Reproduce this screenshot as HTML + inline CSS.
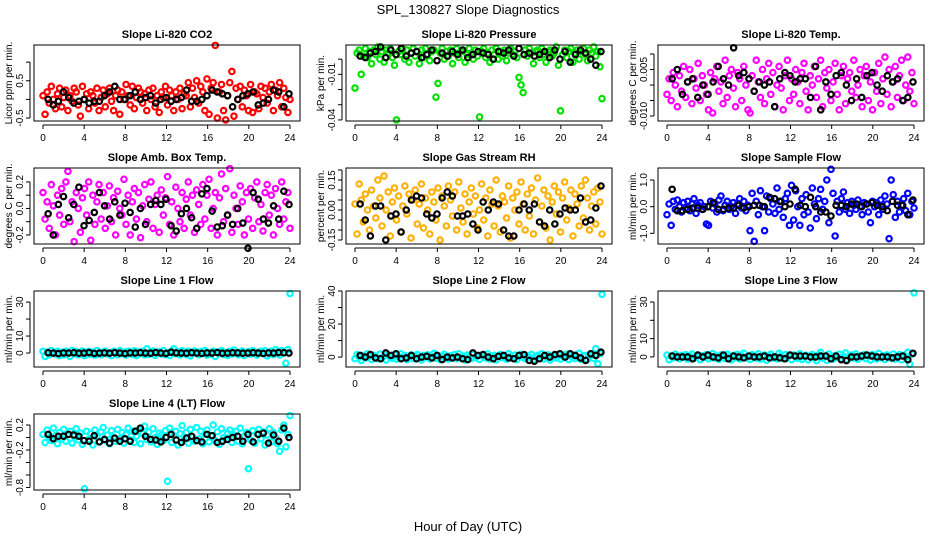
<!DOCTYPE html>
<html><head><meta charset="utf-8"><style>
html,body{margin:0;padding:0;background:#fff;}
svg{display:block;font-family:"Liberation Sans",Arial,sans-serif;}
</style></head><body>
<svg id="chart" width="936" height="540" viewBox="0 0 936 540" xmlns="http://www.w3.org/2000/svg">
<rect width="936" height="540" fill="#fff"/>
<text x="468" y="14" font-size="13" text-anchor="middle">SPL_130827  Slope Diagnostics</text>
<text x="468" y="531" font-size="13" text-anchor="middle">Hour of Day (UTC)</text>
<g id="panels"></g>
</svg>
<script>
// ---- data (hourly-spaced samples; values in panel units) ----
const co2Vals=[0.1,-0.4,0.2,-0.1,0.35,0.0,-0.25,0.15,0.3,-0.2,0.05,0.25,-0.3,0.1,-0.05,0.3,0.2,-0.15,-0.45,0.35,0.0,0.15,-0.25,0.2,0.1,-0.1,0.3,-0.3,0.05,0.25,-0.2,0.15,0.3,-0.05,-0.3,0.1,0.25,-0.4,0.2,0.0,0.4,0.1,-0.15,0.35,-0.25,0.05,0.3,0.2,-0.1,0.15,-0.3,0.25,0.0,0.3,-0.2,0.1,-0.35,0.2,0.05,0.35,-0.15,0.25,0.1,-0.3,0.2,0.0,0.3,-0.25,0.15,0.1,0.45,-0.2,0.3,0.05,0.5,-0.1,0.35,0.2,-0.3,0.55,-0.4,0.3,0.45,1.45,-0.5,0.2,0.4,-0.3,-0.55,0.1,0.45,0.75,-0.45,0.3,0.0,0.35,-0.2,0.25,0.1,-0.3,0.4,-0.35,0.2,0.15,-0.25,0.35,0.05,0.3,-0.1,0.2,0.4,-0.3,0.25,0.1,0.45,-0.2,0.3,0.05,-0.35,0.0];
const co2Black=[0.0,-0.15,-0.05,0.2,0.05,-0.1,-0.05,0.0,-0.1,-0.05,-0.05,0.1,0.2,0.35,0.0,0.0,0.1,0.2,0.0,0.05,0.1,-0.1,0.0,0.05,-0.05,0.0,0.05,0.25,-0.05,-0.05,0.0,0.1,0.25,0.2,0.15,0.1,-0.2,0.0,0.1,0.15,0.2,-0.15,-0.1,0.0,0.25,0.2,-0.2,0.15];
const presVals=[-0.019,0.004,0.006,-0.010,0.002,0.007,0.001,0.005,-0.003,0.006,0.003,0.008,0.000,0.005,-0.002,0.006,0.004,0.007,0.001,-0.004,-0.040,0.005,0.003,0.007,0.000,0.006,-0.002,0.004,0.007,0.002,0.005,-0.003,0.006,0.001,0.007,0.003,-0.001,0.005,0.006,-0.025,-0.016,0.004,0.007,0.000,0.005,0.002,0.006,-0.003,0.004,0.007,0.001,0.005,0.006,-0.002,0.003,0.007,0.004,0.000,0.006,0.002,-0.038,0.005,0.007,0.001,0.004,-0.002,0.006,0.003,0.007,0.000,0.005,0.002,0.006,-0.001,0.004,0.007,0.003,0.005,0.001,-0.012,-0.017,-0.022,0.006,0.002,0.007,0.004,-0.003,0.005,0.006,0.001,0.007,0.003,-0.002,0.005,0.006,0.002,0.004,0.008,-0.004,-0.034,0.003,0.006,0.001,0.005,0.007,-0.002,0.004,0.006,0.000,0.005,0.007,0.003,-0.001,0.006,0.004,0.008,0.002,0.005,-0.005,-0.026];
const presBlack=[0.002,0.001,0.004,0.005,0.008,0.001,0.006,0.003,0.007,0.002,0.004,0.005,0.001,0.003,0.006,-0.001,0.004,0.002,0.005,0.003,0.006,0.001,0.003,0.005,0.004,0.003,0.000,0.005,0.004,0.006,0.002,0.007,0.003,0.004,0.002,0.003,0.005,0.001,0.006,0.000,0.005,-0.002,0.003,0.006,0.004,0.000,-0.004,0.005];
const tempVals=[-0.003,0.002,-0.005,0.004,0.000,-0.007,0.003,-0.002,0.006,-0.004,0.001,0.005,-0.006,0.002,-0.001,0.007,-0.005,0.003,0.000,-0.003,-0.008,0.004,-0.009,0.002,0.006,-0.002,0.001,-0.006,0.008,-0.004,0.003,0.005,-0.001,-0.007,0.004,0.002,-0.005,0.006,0.000,-0.008,-0.009,0.003,-0.002,0.008,0.001,-0.004,0.005,-0.006,0.002,0.007,-0.003,0.004,-0.007,0.000,0.006,-0.001,-0.008,0.003,0.008,-0.005,0.002,-0.003,0.005,0.001,-0.006,0.004,0.007,-0.002,-0.008,0.003,0.000,0.006,-0.004,0.002,0.008,-0.007,0.004,-0.001,0.005,-0.005,0.001,0.007,-0.003,-0.008,0.003,0.006,-0.006,0.002,0.004,-0.002,0.008,-0.004,0.000,0.005,-0.007,0.003,0.006,-0.005,0.001,-0.008,0.004,-0.002,0.007,-0.006,0.002,0.009,-0.003,0.005,-0.007,0.001,0.006,-0.004,0.003,0.008,-0.005,0.000,0.009,-0.002,0.004,-0.006];
const tempBlack=[0.002,0.005,-0.003,0.001,0.002,-0.004,0.000,-0.003,0.001,0.006,0.002,0.000,0.012,0.003,0.004,0.002,-0.002,0.001,0.000,0.001,-0.007,0.002,0.004,0.003,0.001,0.002,0.002,-0.004,0.006,-0.008,0.001,-0.003,0.003,0.004,0.000,-0.005,0.002,-0.004,0.003,0.004,0.000,-0.002,0.003,0.001,0.002,-0.005,-0.004,0.001];
const ambVals=[0.12,-0.08,0.05,-0.15,0.18,0.02,-0.2,0.1,-0.05,0.15,-0.12,0.2,0.28,-0.1,0.05,-0.25,0.12,0.0,-0.18,0.08,0.15,-0.05,0.2,-0.24,0.1,-0.12,0.05,0.18,-0.08,0.12,-0.15,0.02,0.17,-0.1,0.08,-0.2,0.13,0.0,-0.05,0.22,-0.12,0.1,-0.2,0.05,0.15,-0.08,0.12,-0.22,0.02,0.18,-0.1,0.07,0.2,-0.15,0.03,0.1,-0.18,0.14,-0.05,0.08,0.24,-0.12,0.05,-0.2,0.16,0.0,-0.1,0.12,-0.15,0.07,0.2,-0.05,0.1,-0.18,0.14,0.03,-0.12,0.18,-0.08,0.1,0.22,-0.15,0.0,0.12,-0.2,0.08,0.26,-0.1,0.15,-0.05,0.3,-0.18,0.1,0.0,-0.12,0.17,0.05,-0.2,0.12,-0.08,0.15,-0.15,0.08,0.2,-0.1,0.03,-0.17,0.12,0.18,-0.05,0.1,-0.2,0.15,0.0,-0.12,0.2,-0.08,0.05,0.12,-0.15];
const ambBlack=[-0.04,-0.2,0.03,0.09,-0.07,0.03,0.16,-0.13,-0.09,-0.03,0.12,0.02,-0.08,0.05,-0.05,0.04,-0.03,-0.14,0.0,-0.12,0.03,0.06,0.03,0.07,-0.13,-0.17,-0.04,0.0,-0.07,-0.15,0.11,0.15,-0.02,-0.14,-0.13,-0.05,-0.12,0.0,-0.11,-0.3,0.12,0.07,-0.08,-0.11,0.02,-0.08,0.13,0.03];
const rhVals=[0.03,-0.12,0.13,0.05,-0.06,0.08,0.0,-0.1,0.1,0.02,-0.04,0.15,0.06,-0.08,0.17,0.0,0.09,-0.13,0.04,0.11,-0.05,0.07,-0.11,0.02,0.12,-0.02,0.08,-0.14,0.05,0.1,-0.07,0.03,0.13,-0.09,0.06,0.0,-0.12,0.09,0.04,-0.05,0.11,-0.15,0.07,0.02,-0.08,0.12,0.05,-0.03,0.09,-0.1,0.14,0.01,-0.06,0.08,-0.12,0.04,0.11,-0.02,0.07,-0.09,0.0,0.13,-0.05,0.06,-0.13,0.1,0.03,-0.08,0.15,0.02,-0.11,0.07,0.04,-0.04,0.12,-0.14,0.06,0.0,0.09,-0.07,0.14,0.03,-0.1,0.08,-0.03,0.11,-0.12,0.05,0.16,-0.06,0.02,0.1,-0.09,0.07,-0.15,0.04,0.12,-0.02,0.09,-0.11,0.06,0.14,-0.05,0.01,0.1,-0.13,0.08,0.03,-0.08,0.12,-0.04,0.15,0.06,-0.1,0.02,0.09,-0.07,0.11,0.04,-0.12];
const rhBlack=[0.03,-0.05,-0.13,0.02,0.02,-0.15,-0.03,-0.02,-0.11,0.0,0.05,0.07,0.06,-0.02,-0.04,-0.02,0.06,0.09,0.07,-0.03,-0.03,-0.02,-0.07,-0.1,0.04,0.0,0.04,0.03,-0.1,-0.13,-0.13,0.0,0.03,0.0,0.03,-0.06,-0.08,0.0,-0.07,-0.02,0.01,0.0,0.0,0.06,-0.06,-0.05,0.01,0.12];
const flowVals=[-0.3,0.1,-0.7,0.2,-0.1,0.25,0.0,-0.2,0.15,-0.05,0.2,-0.15,0.1,0.3,-0.25,0.05,0.15,-0.1,0.0,-0.65,-0.7,0.2,-0.05,0.1,-0.2,0.25,0.4,-0.15,0.05,0.2,-0.1,0.0,0.15,-0.25,0.1,0.3,-0.05,0.2,-0.15,0.05,-0.9,0.5,-1.3,0.2,-0.3,0.6,0.0,-0.9,0.4,-0.2,0.3,0.1,-0.25,0.7,-0.1,0.2,-0.4,0.3,0.5,-0.7,0.8,-0.5,0.6,0.0,-0.7,0.3,-0.3,0.45,-0.2,-0.8,0.7,0.1,-0.45,0.3,0.65,-0.1,0.2,1.0,-0.6,1.4,0.5,-1.1,0.2,-0.2,0.3,0.55,-0.1,0.15,-0.25,0.2,0.05,-0.1,0.25,0.0,-0.3,0.15,0.1,-0.2,-0.6,0.2,0.0,0.15,-0.3,0.25,-0.1,0.4,0.1,-1.2,1.0,0.45,-0.4,0.2,-0.2,0.05,0.3,-0.15,0.5,-0.3,0.2,-0.05];
const flowBlack=[0.65,-0.15,-0.15,-0.1,-0.05,-0.05,-0.1,0.0,0.15,-0.1,-0.1,-0.05,-0.05,0.05,-0.05,0.0,0.05,0.05,0.0,0.35,0.3,0.2,0.0,0.1,0.65,0.05,0.0,0.35,0.0,-0.2,-0.2,-0.35,0.05,0.05,0.0,0.1,0.1,0.0,0.1,0.15,0.05,0.0,-0.15,0.2,0.05,0.05,-0.3,0.25];
const line1Vals=[1,-2,0.5,-1,1.5,0,-0.5,1,-1.5,0.5,-1,1,0,-2,1.5,-0.5,0.8,-1,0.3,1.2,-1.5,0,1,-0.8,0.5,-1.2,1.5,0,-1,0.7,1.2,-0.5,0,-1.5,1,0.3,-1,1.5,-0.3,0.6,-1.2,1,0,-0.7,1.3,-1.5,0.5,-0.2,1,-1,2.5,-0.8,0.4,1.2,-1.3,0,0.8,-0.5,1.5,-1,0.2,-1.5,1,2.5,-0.4,0.7,-1.1,1.3,0,-0.8,1,-1.6,0.5,1.2,-0.3,-1,0.9,0,1.5,-1.2,0.4,-0.6,1.1,-2,0.6,0,1.4,-0.9,0.3,-1.3,1,-0.5,1.8,0,-1,0.5,1.2,-1.4,0.2,0.8,-0.7,1.5,0,-1.1,0.6,1,-0.4,1.3,-1.6,0.3,1.1,-0.9,2,0.5,-1.2,1.4,0,-6,2,35];
const line1Black=[0.2,0,-0.3,0.1,0,0.2,-0.1,0,0.3,-0.2,0,0.1,-0.1,0.2,0,-0.3,0.1,0,0.2,0,-0.1,0.3,0,-0.2,0.5,0.1,0,-0.1,0.2,0,-0.2,0.1,0,0.3,-0.1,0,0.2,0.1,-0.1,0,0.2,0,-0.2,0.1,0,0.3,0.2,0];
const line2Vals=[-1,1.5,0,-2,1,-0.5,2,0.5,-1.5,1,0,-1,1.8,-0.3,0.6,-1.8,1.2,0,-0.8,1.5,-1.2,0.4,2,-0.6,1,-1.5,0.2,1.3,-1,0.5,1.6,-0.4,-1.7,0.9,0,1.4,-1.1,0.3,2.2,-0.7,1,-1.6,0.5,1.7,-0.2,-1.2,0.8,0,1.5,-1,2,-0.5,0.6,-1.8,1.2,0.2,-0.9,1.6,-0.3,0.7,-1.4,1.1,0,-0.6,1.9,-1.2,0.4,1,-1.7,0.6,1.5,-0.4,0,-1.3,2.1,0.3,-0.8,1.2,-1.5,0.5,1.7,-0.2,-1,0.9,0,1.6,-1.4,0.3,1.1,-0.7,2,-1.1,0.5,1.4,-1.8,0.2,0.9,-0.5,1.6,-1.2,0.6,-0.3,1.8,-1.5,0.4,1.2,-0.9,0,2.3,-1.4,0.7,1,-1.6,0.5,1.5,-0.8,5,-4,2,38];
const line2Black=[1,0,1.5,-0.5,-1,2.5,1,2,-1,-0.5,1,-1,0,0.5,-0.5,1,-1.5,0,-0.5,0,-1,-1.5,2.5,1,1.5,0,-1,0.5,1,-0.5,-1,1,1.5,-2,-2.5,-1,1,0,1.5,2,0,2,1,-0.5,-2,2,1,3];
const line3Vals=[1,-1.5,0.5,-0.5,1.5,0,-1,0.8,-0.3,1.2,-1.2,0.4,1.6,-0.8,0,1,-1.5,0.6,-0.2,1.3,-1,0.3,1.8,-0.6,0.5,-1.3,1.1,0,-0.9,1.5,0.2,-1.6,0.9,-0.4,1.4,-1.1,0.6,2,-0.5,0,-1.4,1.2,0.3,-0.7,1.7,-1.2,0.5,1,-1.8,0.4,1.5,-0.6,0,-1.1,2,0.7,-0.9,1.3,-0.2,0.8,-1.5,1,0.1,-0.8,1.8,-1.3,0.4,0.9,-1.6,0.6,1.4,-0.4,-2,1.1,2.5,-0.7,0.3,-1.8,1.6,0,-1.2,0.8,-0.3,1.5,-1,0.5,2.2,-1.5,0.2,1,-0.6,1.7,-1.3,0.4,0,1.2,-0.9,0.7,-1.7,1.4,0.3,-1.1,1.9,-0.5,0.6,-1.4,1.1,0,-0.8,1.6,-1.2,0.5,1.3,-1.6,0.9,-0.3,2.5,-4,1.5,35];
const line3Black=[0.5,0,0,0,-1,1,0,1,0,-0.5,1,-1,0.5,0,-0.5,0.5,0,0,0.5,-0.5,0,-0.5,-1,1,0.5,0.5,0.5,0,0,0.5,0.5,-1,0.5,-1.5,-2,0,0,0.5,1,0.5,0,0,0,-0.5,0,0.5,-1.5,2];
const line4Vals=[0.05,-0.08,0.12,0.0,-0.05,0.15,0.03,-0.1,0.08,-0.02,0.13,-0.06,0.05,0.1,-0.09,0.02,0.14,-0.04,0.07,-0.11,-0.82,0.1,-0.03,0.06,-0.12,0.12,0.01,-0.07,0.09,0.16,-0.05,0.04,-0.1,0.11,0.0,-0.06,0.13,-0.02,0.08,-0.09,0.05,0.15,-0.04,0.1,-0.08,0.02,0.12,-0.1,0.06,0.18,-0.03,0.09,-0.07,0.14,0.0,-0.11,0.07,0.04,-0.05,0.11,-0.7,0.15,-0.08,0.03,0.1,-0.12,0.06,0.19,-0.04,0.08,-0.09,0.13,0.01,-0.06,0.16,-0.02,0.1,-0.1,0.05,0.12,-0.07,0.03,0.2,-0.05,0.09,-0.11,0.14,0.0,-0.03,0.07,0.12,-0.08,0.04,0.1,-0.06,0.15,-0.1,0.02,0.08,-0.5,-0.04,0.11,-0.09,0.06,0.13,-0.02,0.09,-0.12,0.04,0.14,-0.07,0.08,0.0,-0.1,-0.22,0.12,0.2,-0.15,0.05,0.35];
const line4Black=[0.05,-0.02,0.02,0.02,0.05,0.04,0.02,-0.05,-0.06,0.03,-0.07,-0.03,-0.09,-0.01,-0.06,-0.02,-0.06,0.1,0.15,0.02,-0.03,-0.04,-0.07,0.0,0.05,-0.04,-0.08,-0.01,0.02,-0.05,-0.07,0.05,0.03,-0.08,-0.06,-0.03,0.0,0.02,-0.06,0.05,-0.07,0.05,0.07,-0.09,0.04,-0.06,0.15,0.0];

// ---- layout ----
const cols=[34,346,658], rows=[45,168,291,414], PW=266, PH=76;
const panels=[
 {name:'co2',title:'Slope Li-820 CO2',ylab:'Licor ppm per min.',vals:co2Vals,blk:co2Black,col:'#ff0000',c:0,r:0,y0:-0.58,y1:1.46,ticks:[-0.5,0,0.5,1],labs:{'-0.5':'-0.5','0.5':'0.5'}},
 {name:'pressure',title:'Slope Li-820 Pressure',ylab:'kPa per min.',vals:presVals,blk:presBlack,col:'#00e000',c:1,r:0,y0:-0.0407,y1:0.0093,ticks:[-0.04,-0.03,-0.02,-0.01,0],labs:{'-0.04':'-0.04','-0.01':'-0.01'}},
 {name:'li820-temp',title:'Slope Li-820 Temp.',ylab:'degrees C per min.',vals:tempVals,blk:tempBlack,col:'#ff00ff',c:2,r:0,y0:-0.0116,y1:0.0129,ticks:[-0.01,-0.005,0,0.005,0.01],labs:{'-0.01':'-0.010','0.005':'0.005'}},
 {name:'amb-box-temp',title:'Slope Amb. Box Temp.',ylab:'degrees C per min.',vals:ambVals,blk:ambBlack,col:'#ff00ff',c:0,r:1,y0:-0.268,y1:0.305,ticks:[-0.2,-0.1,0,0.1,0.2],labs:{'-0.2':'-0.2','0':'0.0','0.2':'0.2'}},
 {name:'gas-stream-rh',title:'Slope Gas Stream RH',ylab:'percent per min.',vals:rhVals,blk:rhBlack,col:'#ffb000',c:1,r:1,y0:-0.17,y1:0.21,ticks:[-0.15,-0.1,-0.05,0,0.05,0.1,0.15,0.2],labs:{'-0.15':'-0.15','0':'0.00','0.15':'0.15'}},
 {name:'sample-flow',title:'Slope Sample Flow',ylab:'ml/min per min.',vals:flowVals,blk:flowBlack,col:'#0000ff',c:2,r:1,y0:-1.4,y1:1.45,ticks:[-1,0,1],labs:{'-1':'-1.0','0':'0.0','1':'1.0'}},
 {name:'line1-flow',title:'Slope Line 1 Flow',ylab:'ml/min per min.',vals:line1Vals,blk:line1Black,col:'#00ffff',c:0,r:2,y0:-8.2,y1:36.5,ticks:[0,10,20,30],labs:{'0':'0','10':'10','30':'30'}},
 {name:'line2-flow',title:'Slope Line 2 Flow',ylab:'ml/min per min.',vals:line2Vals,blk:line2Black,col:'#00ffff',c:1,r:2,y0:-6,y1:40,ticks:[0,10,20,30,40],labs:{'0':'0','20':'20','40':'40'}},
 {name:'line3-flow',title:'Slope Line 3 Flow',ylab:'ml/min per min.',vals:line3Vals,blk:line3Black,col:'#00ffff',c:2,r:2,y0:-5.5,y1:36,ticks:[0,10,20,30],labs:{'0':'0','10':'10','30':'30'}},
 {name:'line4-flow',title:'Slope Line 4 (LT) Flow',ylab:'ml/min per min.',vals:line4Vals,blk:line4Black,col:'#00ffff',c:0,r:3,y0:-0.84,y1:0.376,ticks:[-0.8,-0.6,-0.4,-0.2,0,0.2],labs:{'-0.8':'-0.8','-0.2':'-0.2','0.2':'0.2'}}
];
const xTicks=[0,4,8,12,16,20,24];
const NS='http://www.w3.org/2000/svg';
function mk(tag,attrs,parent){const e=document.createElementNS(NS,tag);for(const k in attrs)e.setAttribute(k,attrs[k]);parent.appendChild(e);return e;}
const root=document.getElementById('panels');
panels.forEach(p=>{
 const L=cols[p.c],T=rows[p.r],R=L+PW,B=T+PH;
 const xs=h=>L+9+h/24*(PW-19);
 const ys=v=>B-(v-p.y0)/(p.y1-p.y0)*PH;
 const g=mk('g',{},root);
 
 
 const t=mk('text',{x:(L+R)/2,y:T-7,'font-size':11,'font-weight':'bold','text-anchor':'middle'},g);
 t.textContent=p.title;
 
 
 const pts=mk('g',{fill:'none','stroke-width':2.2},g);
 
 
 const n=p.vals.length;
 p.vals.forEach((v,i)=>{
  const c=mk('circle',{cx:xs(i*24/(n-1)),cy:ys(v),r:2.7,stroke:p.col},pts);
  
  
 });
 const m=p.blk.length;
 p.blk.forEach((v,i)=>{
  const c=mk('circle',{cx:xs(0.5+i*23.4/(m-1)),cy:ys(v),r:2.7,stroke:'#000'},pts);
  
  
 });
 const box=mk('rect',{x:L,y:T,width:PW,height:PH,fill:'none',stroke:'#000','stroke-width':1},g);
 
 
 const xa=mk('g',{stroke:'#000','stroke-width':1},g);
 
 
 const ay=B+4;
 mk('line',{x1:xs(0),x2:xs(24),y1:ay,y2:ay},xa);
 xTicks.forEach(h=>{
  mk('line',{x1:xs(h),x2:xs(h),y1:ay,y2:ay+4},xa);
  const tl=mk('text',{x:xs(h),y:ay+16,'font-size':10,'text-anchor':'middle',stroke:'none'},xa);
  tl.textContent=h;
  
  
 });
 const ya=mk('g',{stroke:'#000','stroke-width':1},g);
 
 
 const ax=L-4;
 mk('line',{x1:ax,x2:ax,y1:ys(p.ticks[0]),y2:ys(p.ticks[p.ticks.length-1])},ya);
 p.ticks.forEach(v=>{
  mk('line',{x1:ax-4,x2:ax,y1:ys(v),y2:ys(v)},ya);
  const lab=p.labs[String(v)];
  if(lab){
   const tl=mk('text',{x:0,y:0,'font-size':10,'text-anchor':'middle',stroke:'none',transform:`translate(${ax-7},${ys(v)}) rotate(-90)`},ya);
   tl.textContent=lab;
   
   
  }
 });
 const yt=mk('text',{x:0,y:0,'font-size':10,'text-anchor':'middle',transform:`translate(${L-22},${(T+B)/2}) rotate(-90)`},g);
 yt.textContent=p.ylab;
 
 
});
</script>
</body></html>
